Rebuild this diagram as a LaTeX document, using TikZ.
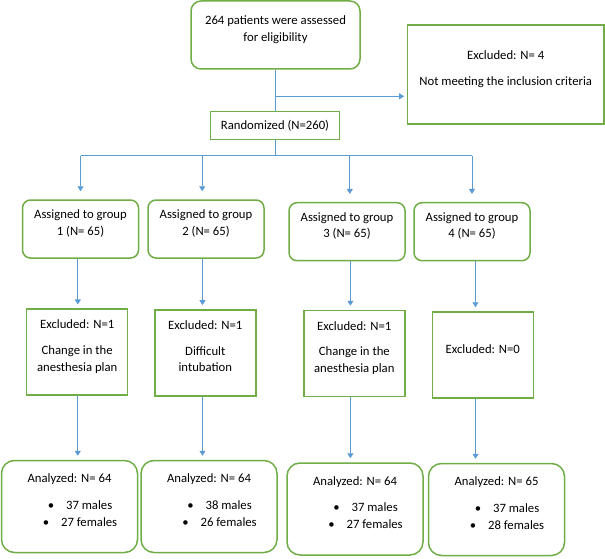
\documentclass[tikz,border=0pt]{standalone}
\usepackage{fontspec}
\setmainfont{Carlito}
\usetikzlibrary{arrows.meta}
\definecolor{boxgreen}{RGB}{112,173,71}
\definecolor{linkblue}{RGB}{91,155,213}
\newcommand{\bitem}{\hspace*{21pt}\textbullet\hspace{12pt}}

\begin{document}
\begin{tikzpicture}[
  x=1pt, y=-1pt,
  font=\fontsize{12.7}{16.7}\selectfont,
  base/.style={draw=boxgreen, line width=1.5pt, align=center, inner sep=0pt},
  lift/.style={execute at begin node={\rule{0pt}{10pt}},
    execute at end node={\rule[-13.2pt]{0pt}{0pt}}},
  grp/.style={base, lift, rounded corners=8pt, minimum width=116pt, minimum height=58pt},
  exc/.style={base, lift, minimum width=101pt, minimum height=86pt},
  ana/.style={base, lift, rounded corners=13pt, minimum width=136pt, minimum height=92pt},
  ln/.style={draw=linkblue, line width=0.9pt},
  arr/.style={ln, -{Triangle[length=5pt,width=6pt]}, shorten >=#1},
  arr/.default=4pt
]
\useasboundingbox (0,0) rectangle (605,559);

\node[base, lift, rounded corners=10pt, minimum width=169pt, minimum height=68pt] (top) at (275.5,35)
  {264 patients were assessed\\for eligibility};
\node[base, lift, minimum width=196.7pt, minimum height=99pt] (excl) at (505.7,74.5)
  {Excluded: N= 4\\[9.3pt]Not meeting the inclusion criteria};
\node[base, minimum width=128.6pt, minimum height=27.6pt] (rand) at (275,125.5) {Randomized (N=260)};

\node[grp] (g1) at (80.5,229) {Assigned to group\\1 (N= 65)};
\node[grp] (g2) at (206,229) {Assigned to group\\2 (N= 65)};
\node[grp] (g3) at (347,231.7) {Assigned to group\\3 (N= 65)};
\node[grp] (g4) at (472,231.7) {Assigned to group\\4 (N= 65)};

\node[exc] (e1) at (77.2,352.2) {Excluded: N=1\\[9pt]Change in the\\anesthesia plan};
\node[exc] (e2) at (205.3,352.9) {Excluded: N=1\\[9pt]Difficult\\intubation};
\node[exc] (e3) at (354.3,353.5) {Excluded: N=1\\[9pt]Change in the\\anesthesia plan};
\node[exc] (e4) at (482.8,355) {Excluded: N=0};

\node[ana] (a1) at (69.5,506.5) {Analyzed: N= 64\\[10pt]\bitem 37 males\\\bitem 27 females};
\node[ana] (a2) at (209,506.5) {Analyzed: N= 64\\[10pt]\bitem 38 males\\\bitem 26 females};
\node[ana] (a3) at (355,509) {Analyzed: N= 64\\[10pt]\bitem 37 males\\\bitem 27 females};
\node[ana] (a4) at (496.5,509.5) {Analyzed: N= 65\\[10pt]\bitem 37 males\\\bitem 28 females};

% split to the excluded box
\coordinate (split) at (275.5,96.3);
\draw[ln] (top.south) -- (rand.north -| top.south);
\draw[arr=2.5pt] (split) -- (split -| excl.west);

% fork to the four groups
\coordinate (fork) at (275,155.7);
\coordinate (d1) at (80.5,155.7);
\coordinate (d2) at (202.2,155.7);
\coordinate (d3) at (349.8,155.7);
\coordinate (d4) at (472,155.7);
\draw[ln] (rand.south) -- (fork);
\draw[ln] (d1) -- (d4);
\draw[arr=8pt] (d1) -- (d1 |- g1.north);
\draw[arr=8pt] (d2) -- (d2 |- g2.north);
\draw[arr=8pt] (d3) -- (d3 |- g3.north);
\draw[arr=8pt] (d4) -- (d4 |- g4.north);

% columns
\coordinate (c1) at (77.8,0);
\coordinate (c2) at (202.5,0);
\coordinate (c3) at (350.4,0);
\coordinate (c4) at (475.5,0);
\draw[arr] (g1.south -| c1) -- (e1.north -| c1);
\draw[arr] (g2.south -| c2) -- (e2.north -| c2);
\draw[arr] (g3.south -| c3) -- (e3.north -| c3);
\draw[arr] (g4.south -| c4) -- (e4.north -| c4);
\draw[arr] (e1.south -| c1) -- (a1.north -| c1);
\draw[arr] (e2.south -| c2) -- (a2.north -| c2);
\draw[arr] (e3.south -| c3) -- (a3.north -| c3);
\draw[arr] (e4.south -| c4) -- (a4.north -| c4);
\end{tikzpicture}
\end{document}
